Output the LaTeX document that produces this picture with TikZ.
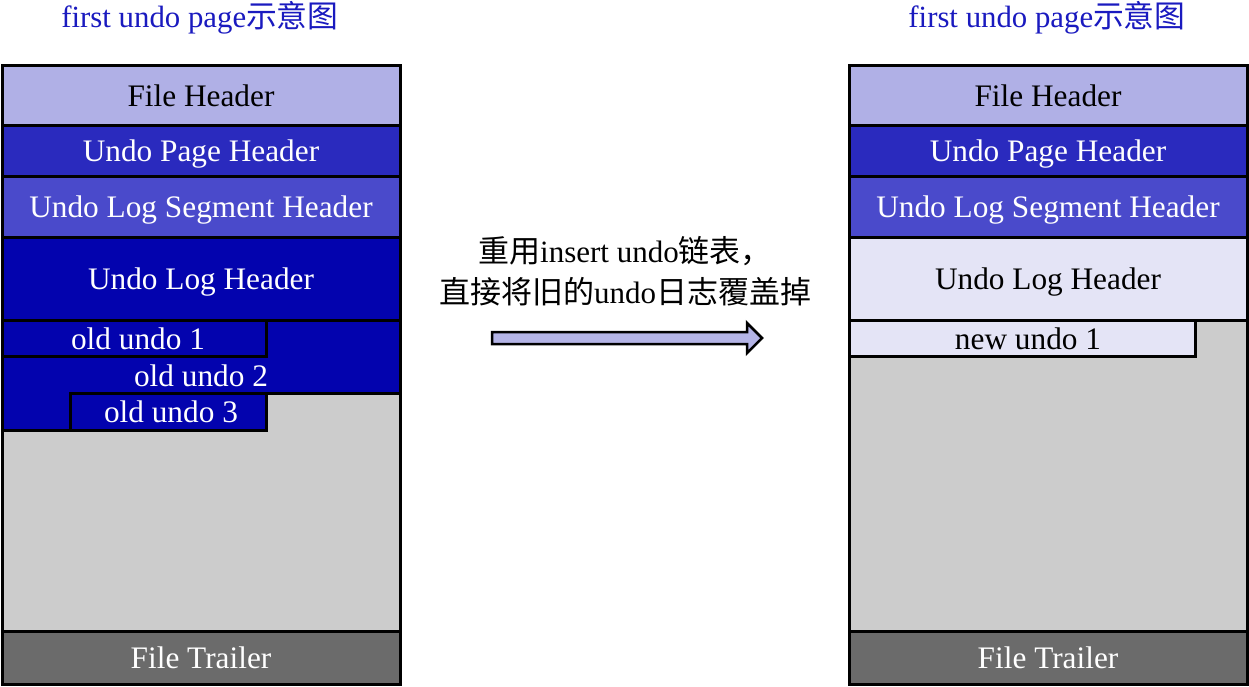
\documentclass[tikz,border=0pt]{standalone}
\usepackage{fontspec}
\setmainfont{Liberation Serif}
\newfontfamily\cjk{Noto Sans CJK SC}
\definecolor{fhc}{HTML}{B0B0E6}
\definecolor{uphc}{HTML}{2A2ABE}
\definecolor{segc}{HTML}{4A4ACB}
\definecolor{ulhc}{HTML}{0303AE}
\definecolor{newc}{HTML}{E4E4F6}
\definecolor{grayc}{HTML}{CCCCCC}
\definecolor{trc}{HTML}{6B6B6B}
\definecolor{titc}{HTML}{1A1ABF}
\definecolor{arrc}{HTML}{B4B4E6}
\tikzset{
  rowbox/.style={draw=black, line width=3pt, rectangle, inner sep=0pt, outer sep=0pt,
    text depth=0pt, font=\fontsize{31.3}{35}\selectfont},
  lbl/.style={inner sep=0pt, font=\fontsize{31.3}{35}\selectfont},
  ttl/.style={inner sep=0pt, text=titc, font=\fontsize{30.8}{35}\selectfont},
}
\begin{document}
\begin{tikzpicture}[x=1pt,y=-1pt]
\useasboundingbox (0,0) rectangle (1249,686);
% titles
\node[ttl] (t1) at (200,18) {first undo page{\cjk 示意图}};
\node[ttl] (t2) at (1047,18) {first undo page{\cjk 示意图}};
% ===== left panel =====
\node[rowbox, fill=grayc, minimum width=398pt, minimum height=310.5pt] (lmid) at (201,475.75) {};
\node[rowbox, fill=fhc, text=black, minimum width=398pt, minimum height=60.5pt] (lfh) at (201,95.25) {File Header};
\node[rowbox, fill=uphc, text=white, minimum width=398pt, minimum height=51pt] (luph) at (201,151) {Undo Page Header};
\node[rowbox, fill=segc, text=white, minimum width=398pt, minimum height=60.5pt] (lseg) at (201,206.75) {Undo Log Segment Header};
\node[rowbox, fill=ulhc, text=white, minimum width=398pt, minimum height=83.5pt] (lulh) at (201,278.75) {Undo Log Header};
\draw[fill=ulhc, line width=3pt] (266,320.5) -- (400,320.5) -- (400,393) -- (70,393) -- (70,430) -- (2,430) -- (2,356) -- (266,356) -- cycle;
\node[lbl, text=white, text depth=0pt] (lu2) at (201,376) {old undo 2};
\node[rowbox, fill=ulhc, text=white, minimum width=264pt, minimum height=35.5pt] (lu1) at (134,338.25) {\hspace*{8pt}old undo 1};
\node[rowbox, fill=ulhc, text=white, minimum width=196pt, minimum height=37pt] (lu3) at (168,411.5) {\hspace*{6pt}old undo 3};
\node[rowbox, fill=trc, text=white, minimum width=398pt, minimum height=53pt] (ltr) at (201,657.5) {File Trailer};
\draw[line width=3pt] (2,65) rectangle (400,684);
% ===== right panel =====
\node[rowbox, fill=grayc, minimum width=398pt, minimum height=310.5pt] (rmid) at (1048,475.75) {};
\node[rowbox, fill=fhc, text=black, minimum width=398pt, minimum height=60.5pt] (rfh) at (1048,95.25) {File Header};
\node[rowbox, fill=uphc, text=white, minimum width=398pt, minimum height=51pt] (ruph) at (1048,151) {Undo Page Header};
\node[rowbox, fill=segc, text=white, minimum width=398pt, minimum height=60.5pt] (rseg) at (1048,206.75) {Undo Log Segment Header};
\node[rowbox, fill=newc, text=black, minimum width=398pt, minimum height=83.5pt] (rulh) at (1048,278.75) {Undo Log Header};
\node[rowbox, fill=newc, text=black, minimum width=346pt, minimum height=35.5pt] (rn1) at (1022,338.25) {\hspace*{12pt}new undo 1};
\node[rowbox, fill=trc, text=white, minimum width=398pt, minimum height=53pt] (rtr) at (1048,657.5) {File Trailer};
\draw[line width=3pt] (849,65) rectangle (1247,684);
% ===== middle =====
\node[lbl, align=center, font=\fontsize{31}{41}\selectfont] (mtxt) at (625,271)
  {{\cjk 重用}insert undo{\cjk 链表，}\\{\cjk 直接将旧的}undo{\cjk 日志覆盖掉}};
\draw[fill=arrc, line width=2.5pt, line join=miter] (492,332) -- (747,332) -- (747,323) -- (762,338) -- (747,353) -- (747,344) -- (492,344) -- cycle;
\end{tikzpicture}
\end{document}
